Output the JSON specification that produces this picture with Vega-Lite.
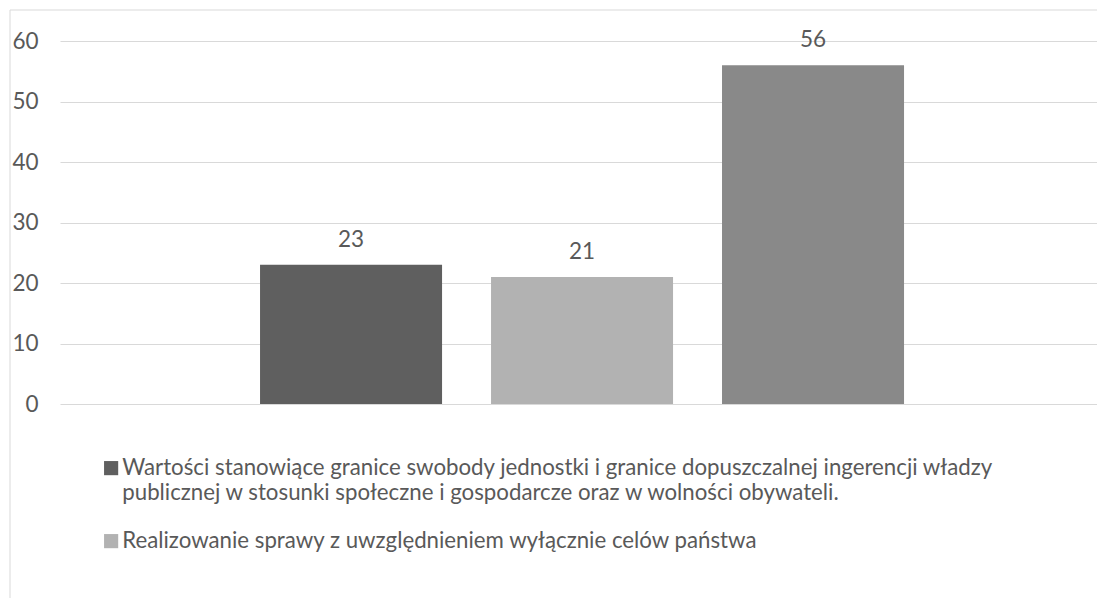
{
  "$schema": "https://vega.github.io/schema/vega-lite/v6.json",
  "width": 1087,
  "height": 588,
  "autosize": "none",
  "padding": {"left": 10, "top": 10, "right": 0, "bottom": 0},
  "background": "#ffffff",
  "config": {"view": {"stroke": null}, "font": "Lato"},
  "data": {
    "values": [
      {"seria": "Wartości stanowiące granice swobody jednostki i granice dopuszczalnej ingerencji władzy publicznej w stosunki społeczne i gospodarcze oraz w wolności obywateli.", "procent": 23},
      {"seria": "Realizowanie sprawy z uwzględnieniem wyłącznie celów państwa", "procent": 21},
      {"seria": "Inne rozumienie interesu publicznego", "procent": 56}
    ]
  },
  "resolve": {"scale": {"x": "independent", "y": "independent"}},
  "layer": [
    {
      "data": {"values": [{"ramka": "lewa"}]},
      "mark": {"type": "rule", "color": "#d9d9d9", "strokeWidth": 1},
      "encoding": {"x": {"datum": 0, "type": "quantitative", "scale": {"domain": [0, 1]}, "axis": null}}
    },
    {
      "data": {"values": [{"ramka": "górna"}]},
      "mark": {"type": "rule", "color": "#d9d9d9", "strokeWidth": 1},
      "encoding": {"y": {"datum": 1, "type": "quantitative", "scale": {"domain": [0, 1]}, "axis": null}}
    },
    {
      "encoding": {
        "x": {
          "field": "seria", "type": "nominal", "sort": null,
          "scale": {"range": [50, 1087], "paddingInner": 0.212, "paddingOuter": 0.8507, "align": 0.509},
          "axis": null
        },
        "y": {
          "field": "procent", "type": "quantitative",
          "scale": {"domain": [0, 60], "range": [394, 31], "nice": false, "zero": true},
          "axis": {
            "orient": "left", "values": [0, 10, 20, 30, 40, 50, 60], "title": null,
            "domain": false, "ticks": false, "tickSize": 0, "labelPadding": 0, "offset": -28,
            "labelFontSize": 22.5, "labelColor": "#595959", "labelFont": "Lato",
            "grid": true, "gridColor": "#d9d9d9", "gridWidth": 1
          }
        }
      },
      "layer": [
        {
          "mark": {"type": "bar"},
          "encoding": {
            "color": {
              "field": "seria", "type": "nominal", "sort": null,
              "scale": {
                "domain": [
                  "Wartości stanowiące granice swobody jednostki i granice dopuszczalnej ingerencji władzy publicznej w stosunki społeczne i gospodarcze oraz w wolności obywateli.",
                  "Realizowanie sprawy z uwzględnieniem wyłącznie celów państwa",
                  "Inne rozumienie interesu publicznego"
                ],
                "range": ["#5f5f5f", "#b2b2b2", "#898989"]
              },
              "legend": {
                "orient": "none", "legendX": 90, "legendY": 447, "direction": "vertical",
                "values": [
                  "Wartości stanowiące granice swobody jednostki i granice dopuszczalnej ingerencji władzy publicznej w stosunki społeczne i gospodarcze oraz w wolności obywateli.",
                  "Realizowanie sprawy z uwzględnieniem wyłącznie celów państwa"
                ],
                "title": null, "symbolType": "square", "symbolSize": 200, "symbolStrokeWidth": 0,
                "labelFontSize": 22.25, "labelFont": "Lato", "labelColor": "#595959",
                "labelLimit": 1200, "labelOffset": 0, "rowPadding": 25,
                "encode": {"labels": {"update": {"lineHeight": {"value": 25}}}},
                "labelExpr": "indexof(datum.label, ' publicznej') > 0 ? [substring(datum.label, 0, indexof(datum.label, ' publicznej')), substring(datum.label, indexof(datum.label, ' publicznej') + 1)] : datum.label"
              }
            }
          }
        },
        {
          "mark": {"type": "text", "baseline": "alphabetic", "dy": -18, "fontSize": 22.5, "color": "#595959", "font": "Lato"},
          "encoding": {"text": {"field": "procent", "type": "quantitative"}}
        }
      ]
    }
  ]
}
